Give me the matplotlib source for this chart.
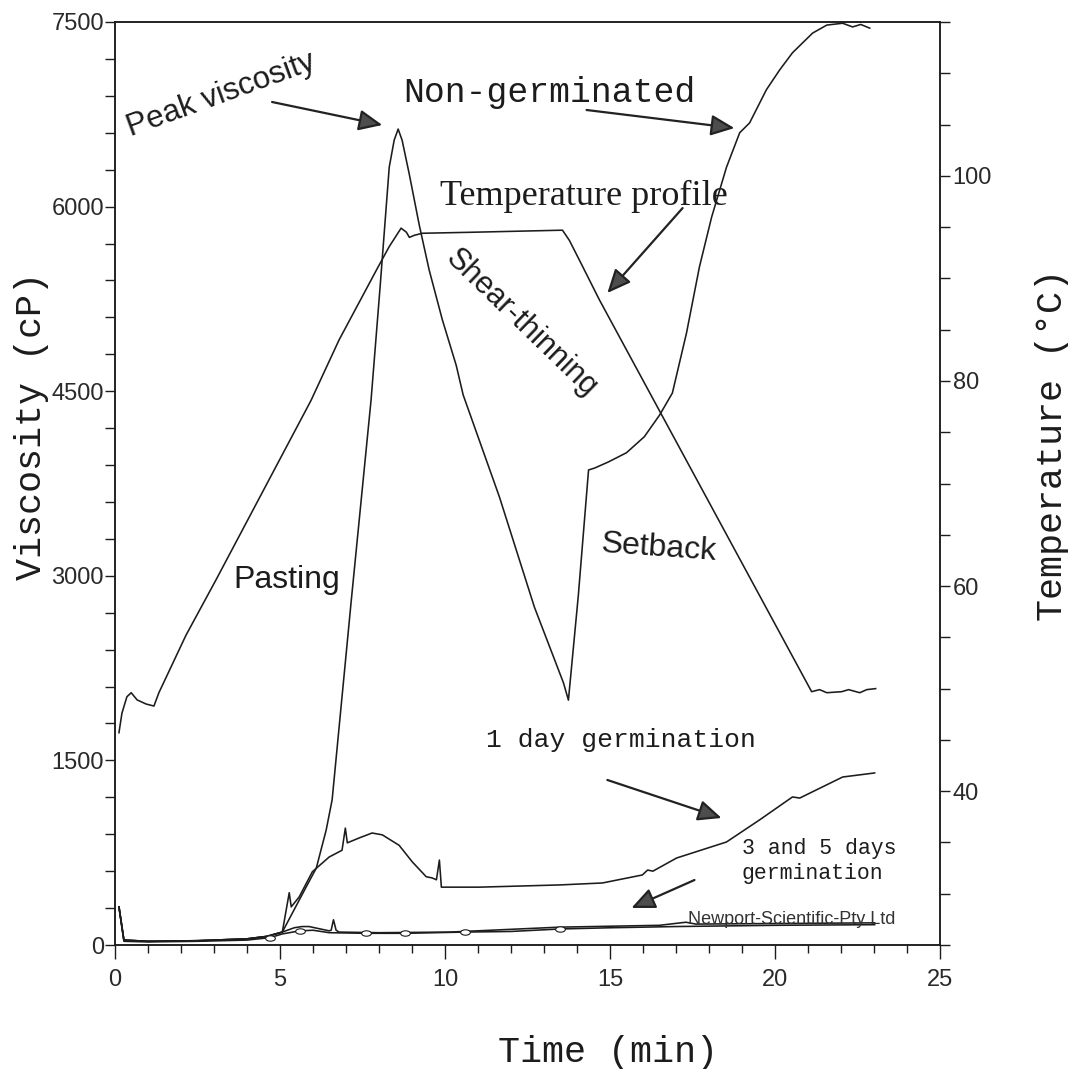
import numpy as np
import matplotlib
matplotlib.use("Agg")
import matplotlib.pyplot as plt
from matplotlib.path import Path
from matplotlib.transforms import Affine2D

# RVA pasting curves, viscosity (cP) vs time (min)
ng_time = [0.12, 0.27, 1.0, 2.5, 4.0, 4.6, 5.07, 5.79, 6.10, 6.40, 6.58, 7.16, 7.76, 8.04, 8.31, 8.46, 8.58,
           8.70, 8.92, 9.22, 9.52, 9.92, 10.34, 10.55, 11.65, 12.71, 13.59, 13.74, 14.04, 14.35, 14.53, 14.95,
           15.50, 16.04, 16.50, 16.89, 17.32, 17.71, 18.08, 18.53, 18.93, 19.23, 19.74, 20.14, 20.53, 21.14,
           21.57, 22.05, 22.35, 22.60, 22.87]
ng_visc = [310, 40, 30, 35, 50, 70, 105, 470, 625, 935, 1180, 2800, 4430, 5370, 6320, 6540, 6630,
           6540, 6260, 5850, 5485, 5080, 4710, 4470, 3640, 2745, 2130, 1990, 2840, 3860, 3875, 3925,
           4000, 4130, 4305, 4485, 4975, 5510, 5915, 6320, 6600, 6680, 6950, 7110, 7250, 7410,
           7475, 7490, 7460, 7480, 7450]

day1_time = [0.12, 0.27, 1.0, 2.5, 4.0, 4.6, 5.07, 5.28, 5.34, 5.58, 5.98, 6.49, 6.88, 6.98, 7.04, 7.40, 7.79,
             8.10, 8.61, 9.01, 9.43, 9.61, 9.74, 9.83, 9.89, 11.04, 13.47, 14.77, 15.98, 16.14, 16.30, 17.02,
             18.53, 19.53, 20.53, 20.75, 22.05, 23.02]
day1_visc = [310, 40, 30, 35, 50, 70, 105, 425, 310, 390, 595, 715, 770, 950, 830, 870, 910,
             895, 810, 675, 555, 545, 530, 690, 470, 470, 488, 504, 569, 609, 600, 707,
             837, 1016, 1203, 1194, 1365, 1398]

day3_time = [0.12, 0.27, 1.0, 2.5, 4.0, 4.6, 5.07, 5.43, 5.67, 5.88, 6.49, 6.55, 6.62, 6.70, 6.79, 8.01,
             10.13, 13.47, 16.5, 17.3, 17.6, 23.02]
day3_visc = [310, 40, 30, 35, 50, 70, 105, 140, 150, 150, 115, 120, 205, 120, 105, 100,
             105, 145, 160, 185, 170, 180]

day5_time = [0.12, 0.27, 1.0, 2.5, 4.0, 4.7, 5.07, 5.6, 6.0, 6.49, 7.6, 8.8, 10.6, 12.0, 13.47, 15.0,
             17.0, 20.0, 23.02]
day5_visc = [310, 30, 25, 30, 40, 60, 90, 115, 120, 100, 95, 95, 105, 110, 130, 140,
             150, 160, 165]
day5_marks = [5, 7, 10, 11, 12, 14]

# temperature profile (deg C)
temp_time = [0.12, 0.21, 0.36, 0.49, 0.67, 0.94, 1.18, 1.33, 1.55, 2.15, 3.06, 5.94, 6.79, 7.92, 8.31, 8.67,
             8.83, 8.92, 9.07, 9.31, 10.83, 13.56, 13.77, 14.07, 14.68, 21.11, 21.35, 21.57, 22.02, 22.23,
             22.57, 22.78, 23.05]
temp_vals = [45.7, 47.6, 49.2, 49.6, 48.9, 48.5, 48.3, 49.6, 51.1, 55.2, 60.6, 78.1, 84.0, 90.8, 93.1, 94.9,
             94.5, 94.0, 94.2, 94.4, 94.5, 94.7, 93.7, 91.8, 87.9, 49.7, 49.9, 49.6, 49.7, 49.9,
             49.6, 49.9, 50.0]

visc_ticks = [0, 1500, 3000, 4500, 6000, 7500]
temp_ticks = [40, 60, 80, 100]
time_ticks = [0, 5, 10, 15, 20, 25]

MONO = "Liberation Mono"
SANS = "Liberation Sans"
SERIF = "Liberation Serif"
INK = "#1c1c1c"

fig = plt.figure(figsize=(10.68, 10.69), dpi=100)
ax = fig.add_axes([115 / 1068, 1 - 945 / 1069, 825 / 1068, 923 / 1069])
ax2 = ax.twinx()

lw = 1.15
ax.plot(ng_time, ng_visc, color=INK, lw=lw)
ax.plot(day1_time, day1_visc, color=INK, lw=lw)
ax.plot(day3_time, day3_visc, color=INK, lw=lw)
oval = Path.unit_circle().transformed(Affine2D().scale(1.8, 1.0))
ax.plot(day5_time, day5_visc, color=INK, lw=lw, marker=oval, markersize=7,
        markevery=day5_marks, mfc="white", mec=INK, mew=0.8)
ax2.plot(temp_time, temp_vals, color=INK, lw=lw)

ax.set_xlim(0, 25)
ax.set_ylim(0, 7500)
ax2.set_ylim(25, 115)

# ticks
ax.set_xticks(time_ticks)
ax.set_xticks(np.arange(0, 26, 1), minor=True)
ax.set_yticks(visc_ticks)
ax.set_yticks(np.arange(0, 7501, 300), minor=True)
ax2.set_yticks(temp_ticks)
ax2.set_yticks(np.arange(25, 116, 5), minor=True)

ax.tick_params(axis="x", which="major", direction="out", length=10, width=1, pad=7, colors=INK)
ax.tick_params(axis="x", which="minor", direction="out", length=6, width=1, colors=INK)
ax.tick_params(axis="y", which="both", direction="out", length=7, width=1, pad=1, colors=INK)
ax2.tick_params(axis="y", which="both", direction="out", length=7, width=1, pad=2, colors=INK)
for lab in ax.get_xticklabels() + ax.get_yticklabels() + ax2.get_yticklabels():
    lab.set_fontfamily(SANS)
    lab.set_fontsize(17)
    lab.set_color("#2a2a2a")

for a in (ax, ax2):
    for sp in a.spines.values():
        sp.set_linewidth(1.1)
        sp.set_color(INK)

# axis titles
fig.text(32 / 1068, 1 - 426 / 1069, "Viscosity (cP)", rotation=90, ha="center", va="center",
         family=MONO, fontsize=26.5, color=INK)
fig.text(1052 / 1068, 1 - 445 / 1069, "Temperature (\u00b0C)", rotation=90, ha="center", va="center",
         family=MONO, fontsize=26.5, color=INK)
fig.text(608 / 1068, 1 - 1052 / 1069, "Time (min)", ha="center", va="center",
         family=MONO, fontsize=26.5, color=INK)

# labels on the curves
arrow_kw = dict(arrowstyle="-|>,head_length=0.9,head_width=0.4", color="#222222", fc="#4d4d4d",
                lw=1.6, mutation_scale=16, shrinkA=0, shrinkB=0)


def pointer(start, tip):
    ax.annotate("", xy=tip, xytext=start, arrowprops=arrow_kw)


ax.text(3.22, 6907, "Peak viscosity", rotation=20, rotation_mode="anchor", ha="center", va="center",
        family=SANS, fontsize=22.5, color=INK)
pointer((4.76, 6850), (8.10, 6663))

ax.text(13.16, 6931, "Non-germinated", ha="center", va="center", family=MONO, fontsize=25, color=INK)
pointer((14.29, 6785), (18.77, 6638))

ax.text(14.22, 6080, "Temperature profile", ha="center", va="center", family=SERIF, fontsize=26, color=INK)
pointer((17.20, 5988), (14.92, 5298))

ax.text(12.30, 5050, "Shear-thinning", rotation=-44, rotation_mode="anchor", ha="center", va="center",
        family=SANS, fontsize=22, color=INK)
ax.text(5.19, 2966, "Pasting", ha="center", va="center", family=SANS, fontsize=23, color=INK)
ax.text(16.47, 3225, "Setback", rotation=-4, rotation_mode="anchor", ha="center", va="center",
        family=SANS, fontsize=23, color=INK)

ax.text(15.32, 1666, "1 day germination", ha="center", va="center", family=MONO, fontsize=19, color=INK)
pointer((14.92, 1341), (18.38, 1032))

ax.text(18.99, 683, "3 and 5 days\ngermination", ha="left", va="center", multialignment="left",
        family=MONO, fontsize=15.5, color=INK)
pointer((17.56, 528), (15.65, 301))

ax.text(17.35, 205, "Newport-Scientific-Pty Ltd", ha="left", va="center", family=SANS, fontsize=13,
        color="#333333")

fig.savefig("out.png", dpi=100)
